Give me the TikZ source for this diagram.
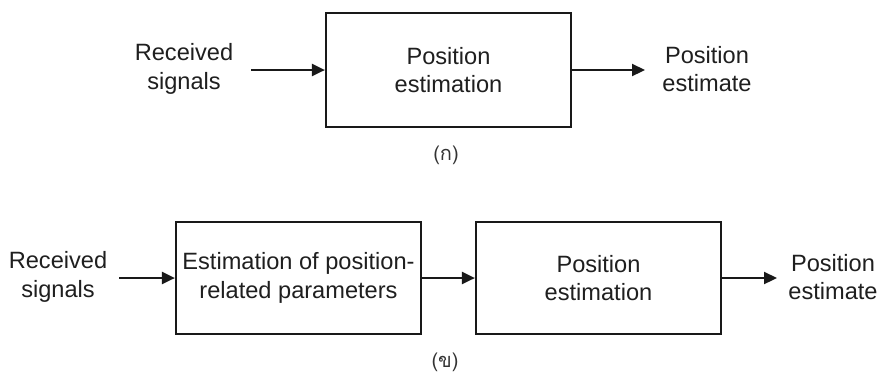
\documentclass[tikz,border=0pt]{standalone}
\usepackage{fontspec}
\setmainfont{Liberation Sans}
\newfontfamily\thaifont[Script=Thai]{Loma}
\usetikzlibrary{arrows.meta}
\begin{document}
\begin{tikzpicture}[x=1pt,y=-1pt,
  blk/.style={draw=black!90, line width=2.2pt, minimum width=245pt, minimum height=114pt, inner sep=0pt},
  blkb/.style={draw=black!90, line width=2.2pt, minimum width=245pt, minimum height=112pt, inner sep=0pt},
  lbl/.style={align=center, font=\fontsize{23.6}{28.5}\selectfont, text=black!88, inner sep=0pt},
  captxt/.style={font=\thaifont\fontsize{20}{22}\selectfont, text=black!80, inner sep=0pt},
  arr/.style={line width=2.2pt, draw=black!90, -{Triangle[length=13pt,width=12pt]}}]
\useasboundingbox (0,0) rectangle (880,376);
\fill[white] (0,0) rectangle (880,376);
% (a)
\node[blk] (pe1) at (448.5,70) {};
\node[lbl] at (pe1.center) {Position\\estimation};
\node[lbl] (rs1) at (184,69) {Received\\signals};
\node[lbl] (out1) at (707,69) {Position\\estimate};
\coordinate (in1) at (251,70);
\coordinate (o1) at (645,70);
\draw[arr] (in1) -- (pe1.west);
\draw[arr] (pe1.east) -- (o1);
\node[captxt] (ca) at (446,155) {(ก)};
% (b)
\node[blkb] (ep) at (298.5,278) {};
\node[lbl] at (ep.center) {Estimation of position-\\related parameters};
\node[blkb] (pe2) at (598.5,278) {};
\node[lbl] at (pe2.center) {Position\\estimation};
\node[lbl] (rs2) at (58,277) {Received\\signals};
\node[lbl] (out2) at (833,277) {Position\\estimate};
\coordinate (in2) at (119,278);
\coordinate (o2) at (777,278);
\draw[arr] (in2) -- (ep.west);
\draw[arr] (ep.east) -- (pe2.west);
\draw[arr] (pe2.east) -- (o2);
\node[captxt] (cb) at (445,362) {(ข)};
\end{tikzpicture}
\end{document}
